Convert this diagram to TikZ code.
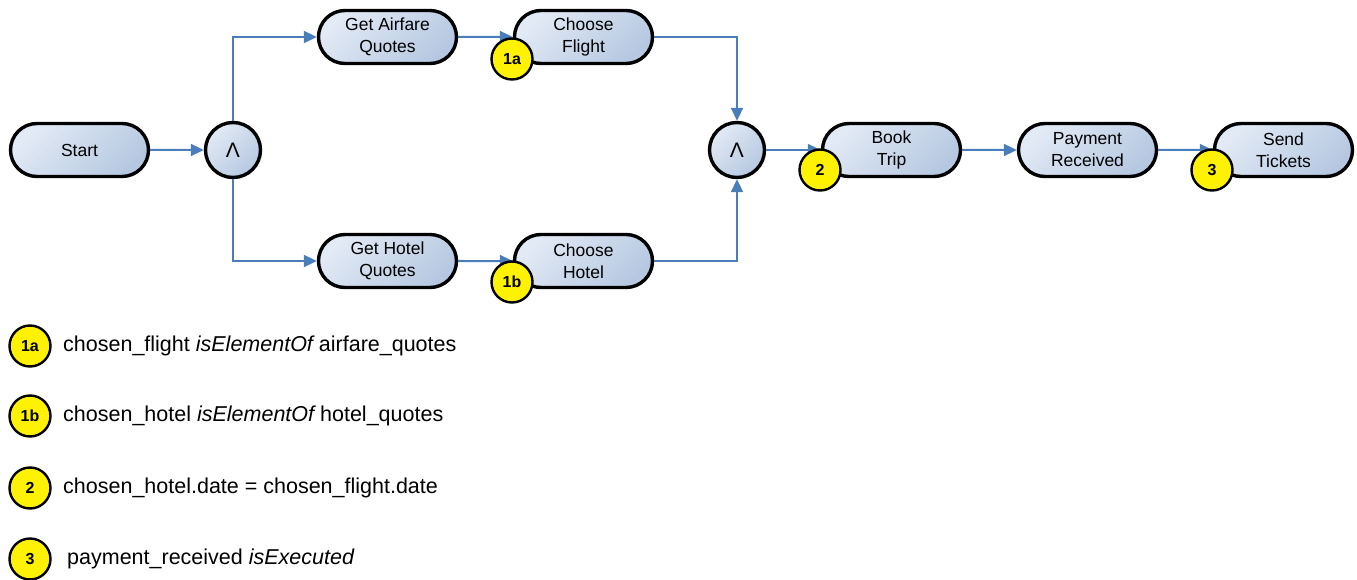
\documentclass[tikz,border=0pt]{standalone}
\usepackage{fontspec}
\setmainfont{Liberation Sans}
\usetikzlibrary{shapes.misc,arrows.meta}
\definecolor{flow}{HTML}{4A7EBB}
\definecolor{boxA}{HTML}{E2EAF5}
\definecolor{boxB}{HTML}{B6C8E1}
\tikzset{
  task/.style={rounded rectangle, draw=black, line width=3.4pt, minimum width=138pt, minimum height=53pt,
    shading=axis, left color=boxA, right color=boxB, shading angle=45, align=center,
    font=\fontsize{17.5}{22}\selectfont, inner sep=0pt},
  gate/.style={circle, draw=black, line width=3.4pt, minimum size=55pt, inner sep=0pt,
    shading=axis, left color=boxA, right color=boxB, shading angle=45, font=\fontsize{21}{21}\selectfont},
  badge/.style={circle, draw=black, line width=2.4pt, fill=yellow, minimum size=41pt, inner sep=0pt,
    font=\bfseries\fontsize{16}{16}\selectfont},
  legend/.style={anchor=west, font=\fontsize{21.5}{24}\selectfont, inner sep=0pt},
  flowarrow/.style={draw=flow, line width=2pt, -{Triangle[length=13pt,width=12pt]}},
}
\begin{document}
\begin{tikzpicture}[x=1pt,y=-1pt]
\useasboundingbox (0,0) rectangle (1357,580);
\node[task] (start) at (79.5,150) {Start};
\node[gate] (and1) at (233,150) {Λ};
\node[task] (air) at (387.5,37) {Get Airfare\\Quotes};
\node[task] (flight) at (583.5,37) {Choose\\Flight};
\node[task] (hotelq) at (387.5,261) {Get Hotel\\Quotes};
\node[task] (hotel) at (583.5,261) {Choose\\Hotel};
\node[gate] (and2) at (737,150) {Λ};
\node[task] (book) at (891.5,150) {Book\\Trip};
\node[task] (pay) at (1087.5,150) {Payment\\Received};
\node[task] (send) at (1283.5,150) {Send\\Tickets};

\draw[flowarrow] (start) -- (and1);
\draw[flowarrow] (and1.north) |- (air.west);
\draw[flowarrow] (and1.south) |- (hotelq.west);
\draw[flowarrow] (air) -- (flight);
\draw[flowarrow] (hotelq) -- (hotel);
\draw[flowarrow] (flight.east) -| (and2.north);
\draw[flowarrow] (hotel.east) -| (and2.south);
\draw[flowarrow] (and2) -- (book);
\draw[flowarrow] (book) -- (pay);
\draw[flowarrow] (pay) -- (send);

\node[badge] (b1a) at (512,59) {1a};
\node[badge] (b1b) at (512,282) {1b};
\node[badge] (b2) at (820,170) {2};
\node[badge] (b3) at (1212,170) {3};

\node[badge] (l1a) at (30,346) {1a};
\node[badge] (l1b) at (30,416) {1b};
\node[badge] (l2) at (30,488) {2};
\node[badge] (l3) at (30,559) {3};
\node[legend] (t1a) at (63,346) {chosen\_flight {\itshape isElementOf} airfare\_quotes};
\node[legend] (t1b) at (63,416) {chosen\_hotel {\itshape isElementOf} hotel\_quotes};
\node[legend] (t2) at (63,488) {chosen\_hotel.date = chosen\_flight.date};
\node[legend] (t3) at (67,559) {payment\_received {\itshape isExecuted}};
\end{tikzpicture}
\end{document}
